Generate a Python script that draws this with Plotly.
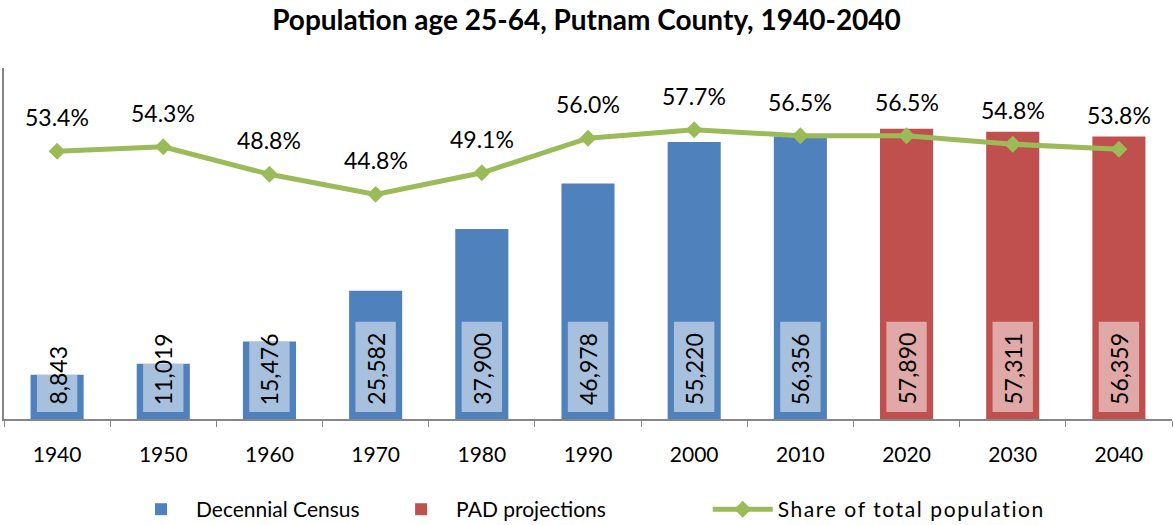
import plotly.graph_objects as go

years = ["1940", "1950", "1960", "1970", "1980", "1990", "2000", "2010", "2020", "2030", "2040"]
census_years = ["1940", "1950", "1960", "1970", "1980", "1990", "2000", "2010"]
census_values = [8843, 11019, 15476, 25582, 37900, 46978, 55220, 56356]
pad_years = ["2020", "2030", "2040"]
pad_values = [57890, 57311, 56359]
share = [0.534, 0.543, 0.488, 0.448, 0.491, 0.560, 0.577, 0.565, 0.565, 0.548, 0.538]

BLUE = "#4F81BD"
RED = "#C0504D"
GREEN = "#9BBB59"
FONT = "Lato"
NB = "\u00a0"

fig = go.Figure()
fig.add_trace(go.Bar(x=census_years, y=census_values, name="Decennial Census" + NB * 4,
                     marker=dict(color=BLUE, line=dict(width=0)), width=0.5))
fig.add_trace(go.Bar(x=pad_years, y=pad_values, name="PAD projections" + NB * 18,
                     marker=dict(color=RED, line=dict(width=0)), width=0.5))
fig.add_trace(go.Scatter(x=years, y=share,
                         name='<span style="letter-spacing:1.6px">Share of total population</span>',
                         yaxis="y2",
                         mode="lines+markers", line=dict(color=GREEN, width=5),
                         marker=dict(symbol="diamond", size=13, color=GREEN)))

shapes = []
annotations = []
box_cap = 19400
box_base = 1400
all_years = census_years + pad_years
all_vals = census_values + pad_values
for yr, v in zip(all_years, all_vals):
    i = years.index(yr)
    shapes.append(dict(type="rect", xref="x", yref="y", x0=i - 0.19, x1=i + 0.19,
                       y0=box_base, y1=min(v, box_cap), line=dict(width=0),
                       fillcolor="rgba(255,255,255,0.5)", layer="above"))
    annotations.append(dict(x=i, y=0, xref="x", yref="y", text=f"{v:,}", textangle=-90,
                            showarrow=False, yanchor="bottom", xanchor="center", yshift=12,
                            font=dict(family=FONT, size=23, color="#000000")))

for i, s in enumerate(share):
    annotations.append(dict(x=i, y=s, xref="x", yref="y2", text=f"{s*100:.1f}%",
                            showarrow=False, yanchor="middle", xanchor="center", yshift=34,
                            font=dict(family=FONT, size=23, color="#000000")))

fig.update_layout(
    width=1173, height=525,
    margin=dict(l=4, r=1, t=68, b=106, autoexpand=False),
    paper_bgcolor="white", plot_bgcolor="white",
    barmode="overlay",
    title=dict(text="<b>Population age 25-64, Putnam County, 1940-2040</b>",
               x=0.5, xanchor="center", y=0.961, yanchor="middle",
               font=dict(family=FONT, size=28, color="#000000")),
    font=dict(family=FONT, color="#000000"),
    xaxis=dict(type="category", categoryorder="array", categoryarray=years,
               range=[-0.5, 10.5], showline=True, linecolor="#868686", linewidth=1.5,
               ticks="outside", tickson="boundaries", ticklen=6, tickcolor="#868686",
               tickfont=dict(family=FONT, size=21), ticklabelstandoff=16,
               showgrid=False, zeroline=False, automargin=False),
    yaxis=dict(range=[0, 70000], showline=True, linecolor="#868686", linewidth=1.5,
               showticklabels=False, ticks="", showgrid=False, zeroline=False,
               automargin=False),
    yaxis2=dict(range=[0, 0.7], overlaying="y", side="right", showline=False,
                showticklabels=False, ticks="", showgrid=False, zeroline=False,
                automargin=False),
    legend=dict(orientation="h", x=0.5, xanchor="center", y=-0.258, yanchor="middle",
                font=dict(family=FONT, size=21), itemwidth=60, tracegroupgap=0),
    shapes=shapes, annotations=annotations,
)

fig.write_html("out.html", config={"displayModeBar": False},
               post_script="document.body.style.margin='0';")
